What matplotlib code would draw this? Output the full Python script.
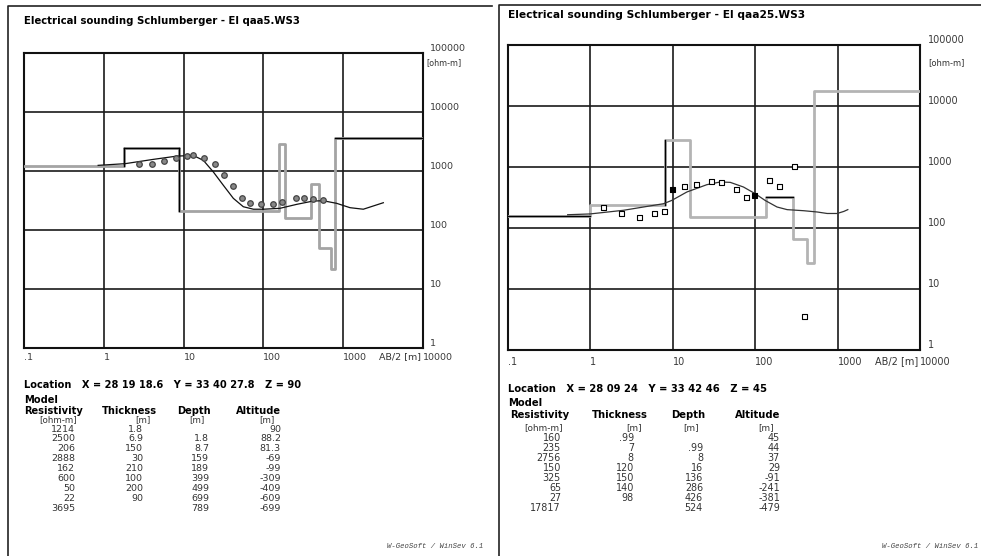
"""
Two Schlumberger vertical electrical soundings (WinSev style printout).
Each panel: apparent resistivity field data, the fitted curve and the
layered model as a step line, plus the model table underneath.
"""

import matplotlib
matplotlib.use("Agg")
import matplotlib.pyplot as plt
from matplotlib.lines import Line2D

plt.rcParams['font.family'] = 'DejaVu Sans'

W, H = 981, 556

# ----------------------------
# Sounding El qaa5
# ----------------------------
left_title = "Electrical sounding Schlumberger - El qaa5.WS3"
left_location = "Location   X = 28 19 18.6   Y = 33 40 27.8   Z = 90"
left_res = [1214, 2500, 206, 2888, 162, 600, 50, 22, 3695]
left_thick = [1.8, 6.9, 150, 30, 210, 100, 200, 90]
left_depth = [1.8, 8.7, 159, 189, 399, 499, 699, 789]
left_alt = [90, 88.2, 81.3, -69, -99, -309, -409, -609, -699]
left_ab2 = [2.8, 4, 5.7, 8, 11, 13, 18, 25, 32, 41, 54, 68, 93, 131, 169,
            258, 323, 422, 563]
left_rho = [1297, 1331, 1472, 1649, 1787, 1837, 1679, 1331, 847, 553, 351,
            283, 272, 272, 294, 351, 351, 330, 322]
left_curve_x = [0.85, 1.85, 4.17, 8.2, 13.2, 17.7, 23.6, 31.4, 42, 56, 75,
                100, 161, 261, 422, 563, 829, 1216, 1786, 3184]
left_curve_y = [1247, 1331, 1574, 1787, 1837, 1514, 962, 575, 344, 248, 225,
                225, 233, 272, 310, 313, 283, 239, 225, 290]

# ----------------------------
# Sounding El qaa25
# ----------------------------
right_title = "Electrical sounding Schlumberger - El qaa25.WS3"
right_location = "Location   X = 28 09 24   Y = 33 42 46   Z = 45"
right_res = [160, 235, 2756, 150, 325, 65, 27, 17817]
right_thick = [0.99, 7, 8, 120, 150, 140, 98]
right_depth = [0.99, 8, 16, 136, 286, 426, 524]
right_alt = [45, 44, 37, 29, -91, -241, -381, -479]
right_ab2 = [1.46, 2.41, 3.93, 5.93, 7.9, 9.8, 13.7, 19.6, 29.8, 39, 59, 79,
             98, 150, 196, 296, 395]
right_rho = [213, 171, 149, 176, 183, 424, 475, 526, 589, 553, 430, 314, 342,
             596, 475, 1023, 3.5]
right_filled = [5, 12]
right_curve_x = [0.53, 0.99, 2.51, 7.7, 9.7, 14.8, 25.9, 37.6, 49.8, 72, 100,
                 132, 184, 244, 388, 565, 747, 988, 1190, 1330]
right_curve_y = [165, 170, 195, 250, 283, 389, 513, 568, 560, 470, 365, 283,
                 221, 200, 192, 183, 173, 173, 187, 200]

x_ticks = [0.1, 1, 10, 100, 1000, 10000]
x_labels = ['.1', '1', '10', '100', '1000', '10000']
y_ticks = [1, 10, 100, 1000, 10000, 100000]
y_labels = ['1', '10', '100', '1000', '10000', '100000']
footer = "W-GeoSoft / WinSev 6.1"


def fmt(v):
    """Format a number like the printout ('.99' instead of '0.99')."""
    s = f"{v:g}"
    if s.startswith('0.'):
        s = s[1:]
    return s


def px(x, y):
    """Pixel position -> figure fraction."""
    return x / W, 1 - y / H


def draw_panel(ax, res, depth, ab2, rho, cx, cy, dark_tops, dark_edges,
               marker, filled, xpad, ypad, fs, model_color, curve_color):
    ax.set_xscale('log')
    ax.set_yscale('log')
    ax.set_xlim(0.1, 10000)
    ax.set_ylim(1, 100000)

    ax.grid(True, color='#1a1a1a', lw=1.2)
    ax.minorticks_off()
    for s in ax.spines.values():
        s.set_linewidth(1.5)
        s.set_color('#111111')

    ax.set_xticks(x_ticks, x_labels)
    ax.yaxis.tick_right()
    ax.set_yticks(y_ticks, y_labels)
    ax.tick_params(length=0, labelsize=fs, labelcolor='#3a3a3a')
    ax.tick_params(axis='x', pad=xpad)
    ax.tick_params(axis='y', pad=ypad)
    for lab in ax.get_xticklabels():
        lab.set_ha('left')
    for lab in ax.get_yticklabels():
        lab.set_va('bottom')

    # layered model as a step line
    sx = [0.1] + depth + [10000]
    sy = res + [res[-1]]
    ax.step(sx, sy, where='post', color=model_color, lw=2.0, zorder=3)

    # parts of the model drawn in black
    n = len(res)
    for i in dark_tops:
        x0 = 0.1 if i == 0 else depth[i - 1]
        x1 = 10000 if i == n - 1 else depth[i]
        ax.plot([x0, x1], [res[i], res[i]], color='black', lw=1.0, zorder=4)
    for j in dark_edges:
        ax.plot([depth[j], depth[j]], [res[j], res[j + 1]], color='black',
                lw=1.0, zorder=4)

    # fitted curve
    ax.plot(cx, cy, color=curve_color, lw=0.9, zorder=5)

    # field data
    if marker == 'o':
        ax.plot(ab2, rho, 'o', ms=4.0, mfc='#888888', mec='#444444',
                mew=0.9, zorder=6)
    else:
        face = ['black' if i in filled else 'white' for i in range(len(ab2))]
        ax.scatter(ab2, rho, marker='s', s=13, facecolors=face,
                   edgecolors='black', linewidths=0.8, zorder=6)


def draw_table(res, thick, depth, alt, x0, cols, y_loc, y_model, y_head,
               y_unit, y_row0, dy, location, fs):
    c_res, c_thk, c_dep, c_alt = cols
    small = fs - 0.3
    grey = '#333333'
    fig.text(*px(x0, y_loc), location, fontsize=fs, fontweight='bold',
             va='center')
    fig.text(*px(x0, y_model), "Model", fontsize=fs, fontweight='bold',
             va='center')
    heads = ["Resistivity", "Thickness", "Depth", "Altitude"]
    for name, c in zip(heads, cols):
        fig.text(*px(c, y_head), name, fontsize=fs, fontweight='bold',
                 va='center', ha='right')
    units = ["[ohm-m]", "[m]", "[m]", "[m]"]
    for name, c in zip(units, cols):
        fig.text(*px(c - 6, y_unit), name, fontsize=small - 0.5,
                 color=grey, va='center', ha='right')
    for i in range(len(res)):
        y = y_row0 + i * dy
        fig.text(*px(c_res - 8, y), fmt(res[i]), fontsize=small,
                 color=grey, va='center', ha='right')
        if i < len(thick):
            fig.text(*px(c_thk - 14, y), fmt(thick[i]), fontsize=small,
                     color=grey, va='center', ha='right')
        if i > 0:
            fig.text(*px(c_dep - 2, y), fmt(depth[i - 1]), fontsize=small,
                     color=grey, va='center', ha='right')
        fig.text(*px(c_alt, y), fmt(alt[i]), fontsize=small,
                 color=grey, va='center', ha='right')


fig = plt.figure(figsize=(W / 100, H / 100), dpi=100)

# panel frames
for xs, ys in [([7.5, 7.5, 492], [556, 6, 6]), ([499, 499, 981], [556, 5, 5])]:
    fig.add_artist(Line2D([x / W for x in xs], [1 - y / H for y in ys],
                          color='#222222', lw=1.2))

# ----------------------------
# Left panel
# ----------------------------
axl = fig.add_axes([24 / W, 1 - 348 / H, 399 / W, 295 / H])
draw_panel(axl, left_res, left_depth, left_ab2, left_rho, left_curve_x,
           left_curve_y, dark_tops=[1, 8], dark_edges=[0, 1], marker='o',
           filled=[], xpad=3.5, ypad=5, fs=6.8, model_color='#a4a4a4',
           curve_color='#111111')
fig.text(*px(24, 20.5), left_title, fontsize=7.3, fontweight='bold',
         va='center')
fig.text(*px(426, 63), "[ohm-m]", fontsize=5.8, color='#333333', va='center')
fig.text(*px(379, 357), "AB/2 [m]", fontsize=6.8, color='#333333',
         va='center')
draw_table(left_res, left_thick, left_depth, left_alt, 24,
           (83, 157, 211, 281), 385, 400, 410.5, 419.5, 429, 9.9,
           left_location, 7.1)
fig.text(*px(483, 547), footer, fontsize=5.2, family='Liberation Mono',
         style='italic', color='#444444', ha='right', va='center')

# ----------------------------
# Right panel
# ----------------------------
axr = fig.add_axes([508 / W, 1 - 350 / H, 412 / W, 305 / H])
draw_panel(axr, right_res, right_depth, right_ab2, right_rho, right_curve_x,
           right_curve_y, dark_tops=[0, 4], dark_edges=[1], marker='s',
           filled=right_filled, xpad=5, ypad=5.5, fs=7.0,
           model_color='#b4b4b4', curve_color='#333333')
fig.text(*px(508, 15), right_title, fontsize=7.7, fontweight='bold',
         va='center')
fig.text(*px(928, 63), "[ohm-m]", fontsize=6.0, color='#333333', va='center')
fig.text(*px(875, 361), "AB/2 [m]", fontsize=7.0, color='#333333',
         va='center')
draw_table(right_res, right_thick, right_depth, right_alt, 508,
           (569, 648, 705, 780), 389.3, 402.7, 415, 428, 438, 10.0,
           right_location, 7.2)
fig.text(*px(978, 547), footer, fontsize=5.2, family='Liberation Mono',
         style='italic', color='#444444', ha='right', va='center')

fig.savefig('out.png', dpi=100)
